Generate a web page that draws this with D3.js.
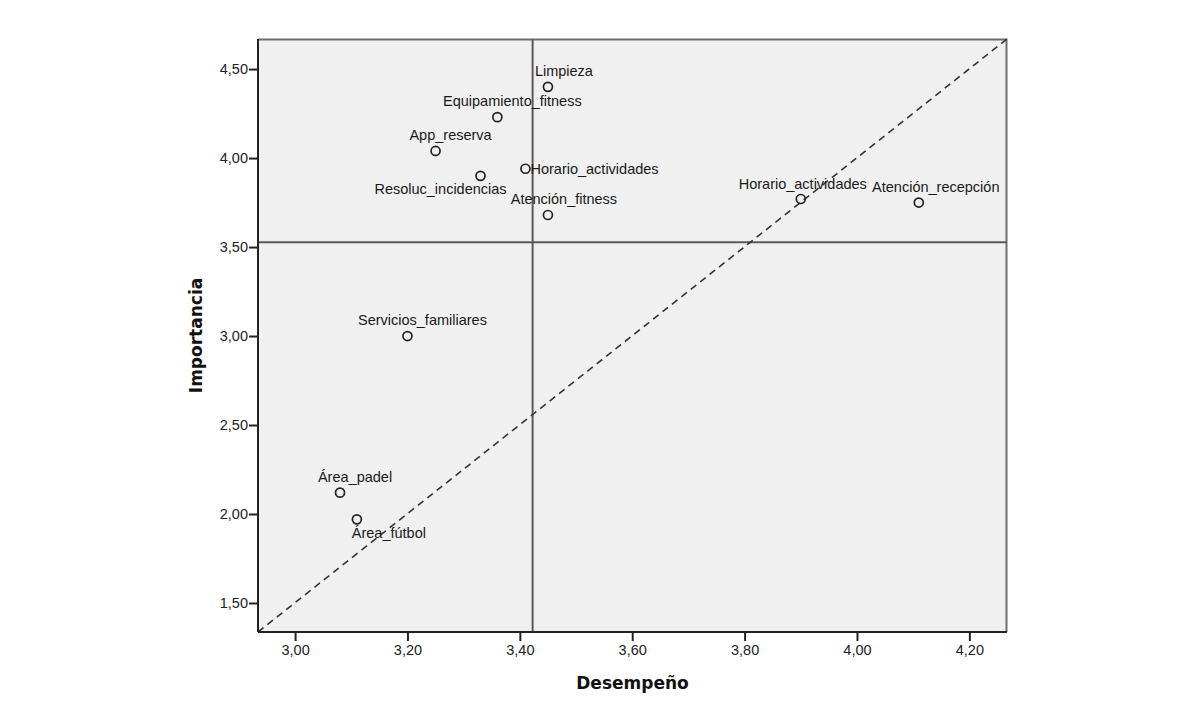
<!DOCTYPE html>
<html>
<head>
<meta charset="utf-8">
<script src="https://cdn.jsdelivr.net/npm/d3@7"></script>
<style>
  html, body { margin: 0; padding: 0; background: #ffffff; }
  svg { display: block; }
</style>
</head>
<body>
<div id="chart"></div>
<script>
// ---- Data ----
const labels = ["Limpieza", "Equipamiento_fitness", "App_reserva", "Resoluc_incidencias",
  "Horario_actividades", "Atención_fitness", "Horario_actividades", "Atención_recepción",
  "Servicios_familiares", "Área_padel", "Área_fútbol"];
const desempeno = [3.45, 3.36, 3.25, 3.33, 3.41, 3.45, 3.90, 4.11, 3.20, 3.08, 3.11];
const importancia = [4.40, 4.23, 4.04, 3.90, 3.94, 3.68, 3.77, 3.75, 3.00, 2.12, 1.97];
const xTicks = [3.00, 3.20, 3.40, 3.60, 3.80, 4.00, 4.20];
const yTicks = [1.50, 2.00, 2.50, 3.00, 3.50, 4.00, 4.50];
const xDomain = [2.934, 4.267];
const yDomain = [1.337, 4.669];

// ---- Layout (label placement, not data) ----
const labelLayout = [
  {dx: 16, dy: -11, anchor: "middle"},
  {dx: 15, dy: -11, anchor: "middle"},
  {dx: 15, dy: -11, anchor: "middle"},
  {dx: -40, dy: 18, anchor: "middle"},
  {dx: 5, dy: 5, anchor: "start"},
  {dx: 16, dy: -11, anchor: "middle"},
  {dx: 2, dy: -10, anchor: "middle"},
  {dx: 17, dy: -11, anchor: "middle"},
  {dx: 15, dy: -11, anchor: "middle"},
  {dx: 15, dy: -11, anchor: "middle"},
  {dx: 32, dy: 19, anchor: "middle"}
];

const W = 1200, H = 715;
const plot = {left: 258, right: 1007, top: 39, bottom: 632};
const fmt = v => d3.format(".2f")(v).replace(".", ",");

const svg = d3.select("#chart").append("svg").attr("width", W).attr("height", H);

const x = d3.scaleLinear().domain(xDomain).range([plot.left, plot.right]);
const y = d3.scaleLinear().domain(yDomain).range([plot.bottom, plot.top]);

// plot background
svg.append("rect")
  .attr("x", plot.left).attr("y", plot.top)
  .attr("width", plot.right - plot.left).attr("height", plot.bottom - plot.top)
  .attr("fill", "#f0f0f0");

// top and right frame
svg.append("path")
  .attr("d", `M${plot.left},${plot.top + 0.5}H${plot.right - 0.5}V${plot.bottom}`)
  .attr("fill", "none").attr("stroke", "#6e6e6e").attr("stroke-width", 2);

// reference lines at means
const meanX = d3.mean(desempeno), meanY = d3.mean(importancia);
svg.append("line")
  .attr("x1", x(meanX)).attr("x2", x(meanX)).attr("y1", plot.top).attr("y2", plot.bottom)
  .attr("stroke", "#5a5a5a").attr("stroke-width", 2);
svg.append("line")
  .attr("x1", plot.left).attr("x2", plot.right).attr("y1", y(meanY)).attr("y2", y(meanY))
  .attr("stroke", "#5a5a5a").attr("stroke-width", 2);

// diagonal dashed line (corner to corner)
svg.append("line")
  .attr("x1", x(xDomain[0])).attr("y1", y(yDomain[0]))
  .attr("x2", x(xDomain[1])).attr("y2", y(yDomain[1]))
  .attr("stroke", "#333").attr("stroke-width", 1.6).attr("stroke-dasharray", "7,5");

// axes
const xAxis = d3.axisBottom(x).tickValues(xTicks).tickFormat(fmt).tickSize(9).tickPadding(4).tickSizeOuter(0);
const yAxis = d3.axisLeft(y).tickValues(yTicks).tickFormat(fmt).tickSize(9).tickPadding(1).tickSizeOuter(0);

const gx = svg.append("g").attr("transform", `translate(0,${plot.bottom})`).call(xAxis);
const gy = svg.append("g").attr("transform", `translate(${plot.left},0)`).call(yAxis);
[gx, gy].forEach(g => {
  g.select(".domain").attr("stroke", "#222").attr("stroke-width", 2);
  g.selectAll(".tick line").attr("stroke", "#222").attr("stroke-width", 2);
  g.selectAll(".tick text").attr("fill", "#222")
    .style("font-family", "'Liberation Sans', Arial, sans-serif").style("font-size", "14.5px");
});
gx.select(".domain").attr("d", `M${plot.left},0H${plot.right}`);
gy.select(".domain").attr("d", `M0,${plot.top}V${plot.bottom}`);

// axis titles
svg.append("text")
  .attr("x", (plot.left + plot.right) / 2).attr("y", 689)
  .attr("text-anchor", "middle")
  .style("font-family", "'DejaVu Sans', Verdana, sans-serif").style("font-weight", "bold").style("font-size", "17px")
  .attr("fill", "#111").text("Desempeño");
svg.append("text")
  .attr("transform", `translate(202,${(plot.top + plot.bottom) / 2}) rotate(-90)`)
  .attr("text-anchor", "middle")
  .style("font-family", "'DejaVu Sans', Verdana, sans-serif").style("font-weight", "bold").style("font-size", "17px")
  .attr("fill", "#111").text("Importancia");

// points
const pts = labels.map((l, i) => ({label: l, x: desempeno[i], y: importancia[i], lay: labelLayout[i]}));

svg.append("g").selectAll("circle").data(pts).join("circle")
  .attr("cx", d => x(d.x)).attr("cy", d => y(d.y)).attr("r", 4.5)
  .attr("fill", "none").attr("stroke", "#222").attr("stroke-width", 1.7);

svg.append("g").selectAll("text").data(pts).join("text")
  .attr("x", d => x(d.x) + d.lay.dx).attr("y", d => y(d.y) + d.lay.dy)
  .attr("text-anchor", d => d.lay.anchor)
  .style("font-family", "'Liberation Sans', Arial, sans-serif").style("font-size", "14.5px")
  .attr("fill", "#1a1a1a").text(d => d.label);
</script>
</body>
</html>
